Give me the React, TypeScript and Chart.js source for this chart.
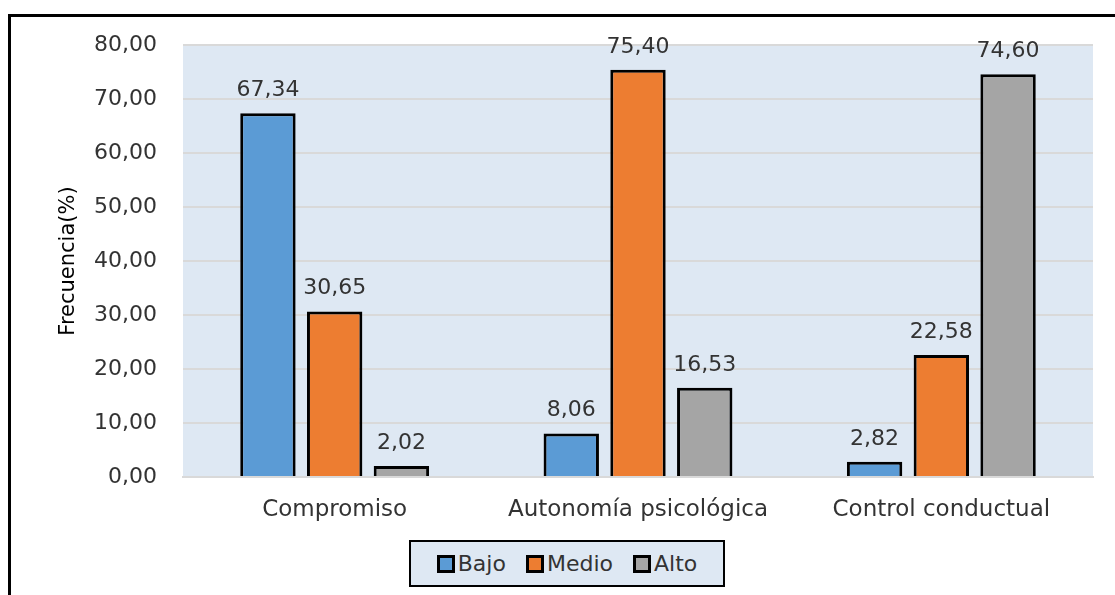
import React, { useEffect, useRef } from "react";
import { Chart, registerables } from "chart.js";

Chart.register(...registerables);

const categories = ["Compromiso", "Autonomía psicológica", "Control conductual"];
const seriesNames = ["Bajo", "Medio", "Alto"];
const bajo = [67.34, 8.06, 2.82];
const medio = [30.65, 75.4, 22.58];
const alto = [2.02, 16.53, 74.6];
const seriesColors = ["#5B9BD5", "#ED7D31", "#A5A5A5"];
const yTicks = [0, 10, 20, 30, 40, 50, 60, 70, 80];
const yTitle = "Frecuencia(%)";

const FONT = "DejaVu Sans";
const TEXT = "#333333";
const fmt = (v: number) => v.toFixed(2).replace(".", ",");

const bgPlugin = {
  id: "plotBg",
  beforeDraw(chart: any) {
    const { ctx, chartArea } = chart;
    ctx.save();
    ctx.fillStyle = "#DEE8F3";
    ctx.fillRect(chartArea.left, chartArea.top, chartArea.right - chartArea.left, chartArea.bottom - chartArea.top);
    ctx.restore();
  },
};

const labelPlugin = {
  id: "valueLabels",
  afterDatasetsDraw(chart: any) {
    const { ctx } = chart;
    ctx.save();
    ctx.font = `22px "${FONT}"`;
    ctx.fillStyle = TEXT;
    ctx.textAlign = "center";
    ctx.textBaseline = "alphabetic";
    chart.data.datasets.forEach((ds: any, i: number) => {
      const meta = chart.getDatasetMeta(i);
      meta.data.forEach((el: any, j: number) => {
        ctx.fillText(fmt(ds.data[j]), el.x, el.y - 17);
      });
    });
    ctx.restore();
  },
};

export default function App() {
  const ref = useRef<HTMLCanvasElement>(null);
  useEffect(() => {
    if (!ref.current) return;
    const chart = new Chart(ref.current, {
      type: "bar",
      data: {
        labels: categories,
        datasets: [bajo, medio, alto].map((d, i) => ({
          label: seriesNames[i],
          data: d,
          backgroundColor: seriesColors[i],
          borderColor: "#000000",
          borderWidth: 3,
          categoryPercentage: 0.66,
          barPercentage: 0.83,
        })),
      },
      options: {
        responsive: false,
        animation: false,
        layout: { padding: { left: 0, top: 45, right: 22, bottom: 0 } },
        plugins: { legend: { display: false }, tooltip: { enabled: false } },
        scales: {
          x: {
            grid: { display: false },
            border: { display: true, color: "#D9D9D9", width: 2 },
            ticks: { color: TEXT, font: { family: FONT, size: 23 }, padding: 11, maxRotation: 0 },
            afterFit: (s: any) => { s.height = 118; },
          },
          y: {
            min: 0,
            max: 80,
            afterBuildTicks: (s: any) => { s.ticks = yTicks.map((v) => ({ value: v })); },
            grid: { color: "#D9D9D9", lineWidth: 2, drawTicks: false },
            border: { display: false },
            ticks: { color: TEXT, font: { family: FONT, size: 22 }, padding: 26, callback: (v: any) => fmt(Number(v)) },
            title: { display: true, text: yTitle, color: "#000000", font: { family: FONT, size: 21 }, padding: { top: 56, bottom: 0 } },
            afterFit: (s: any) => { s.width = 183; },
          },
        },
      },
      plugins: [bgPlugin, labelPlugin],
    });
    return () => chart.destroy();
  }, []);

  return (
    <div style={{ position: "fixed", left: 0, top: 0, width: 1115, height: 595, overflow: "hidden", background: "#fff" }}>
      <div style={{ position: "absolute", left: 8, top: 14, width: 1200, height: 700, border: "3px solid #000", boxSizing: "border-box" }} />
      <canvas ref={ref} width={1115} height={595} style={{ position: "absolute", left: 0, top: 0, width: 1115, height: 595 }} />
      <div
        style={{
          position: "absolute", left: 409, top: 540, width: 316, height: 47, boxSizing: "border-box",
          border: "2px solid #000", background: "#DEE8F3", display: "flex", alignItems: "center",
          justifyContent: "center", gap: 20, fontFamily: FONT, fontSize: 22, color: TEXT,
        }}
      >
        {seriesNames.map((n, i) => (
          <div key={n} style={{ display: "flex", alignItems: "center", gap: 3 }}>
            <span style={{ display: "inline-block", width: 12, height: 12, background: seriesColors[i], border: "3px solid #000" }} />
            <span>{n}</span>
          </div>
        ))}
      </div>
    </div>
  );
}
